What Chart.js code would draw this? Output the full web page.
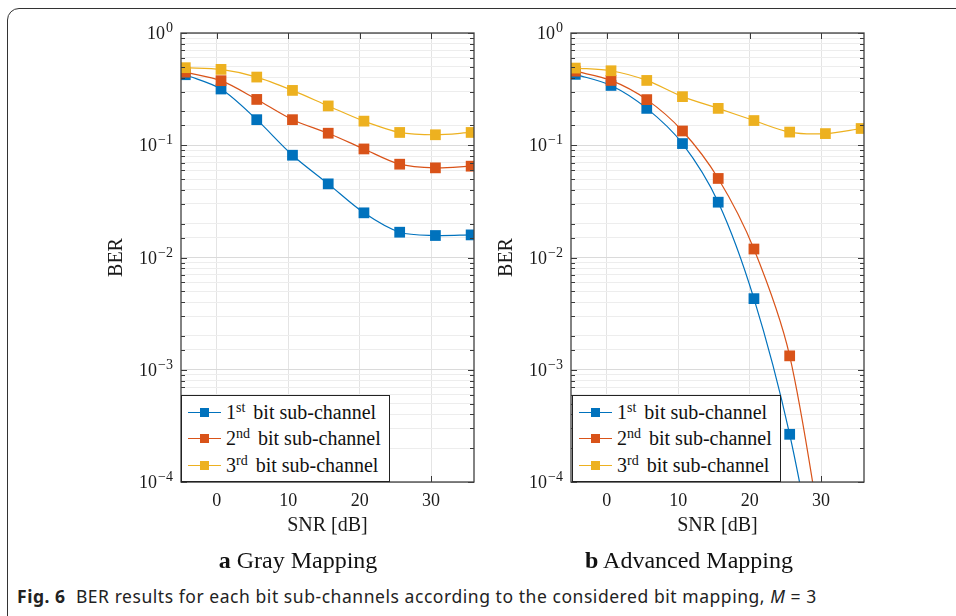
<!DOCTYPE html>
<html>
<head>
<meta charset="utf-8">
<script src="https://cdn.jsdelivr.net/npm/chart.js@4"></script>
<style>
    html, body { margin: 0; padding: 0; background: #fff; }
    body { width: 956px; height: 616px; position: relative; overflow: hidden; }
    .frame { position: absolute; left: 7px; top: 8px; width: 1000px; height: 620px;
        border: 1px solid #333; border-radius: 12px; box-sizing: border-box; }
    .plot { position: absolute; top: 20px; width: 390px; height: 530px; }
    .legend { position: absolute; top: 395px; height: 87px; background: #fff;
        border: 1px solid #222; box-sizing: border-box; font-family: "Liberation Serif", serif;
        font-size: 20px; color: #111; padding-top: 3px; }
    .legend .row { height: 26.5px; display: flex; align-items: center; white-space: nowrap; }
    .legend .sample { position: relative; width: 33px; height: 12px; margin: 0 5px 0 6px; flex: none; }
    .legend .sample .ln { position: absolute; left: 0; right: 0; top: 5.5px; height: 1.2px; }
    .legend .sample .mk { position: absolute; left: 12px; top: 1.5px; width: 9px; height: 9px; }
    .legend sup { font-size: 14px; vertical-align: 7px; line-height: 0; margin-right: 3px; }
    .sub { position: absolute; top: 547px; font-family: "Liberation Serif", serif; font-size: 24px;
        color: #111; transform: translateX(-50%); white-space: nowrap; }
    .caption { position: absolute; left: 17px; top: 584px; font-family: "Noto Sans", sans-serif;
        font-size: 17.5px; letter-spacing: 0.55px; color: #222; white-space: nowrap; }
</style>
</head>
<body>
<div class="frame"></div>

<div class="plot" style="left:100px"><canvas id="grayChart"></canvas></div>
<div class="plot" style="left:490px"><canvas id="advChart"></canvas></div>

<div class="legend" style="left:181px;width:209px" id="grayLegend"></div>
<div class="legend" style="left:572px;width:209px" id="advLegend"></div>

<div class="sub" style="left:298px"><b>a</b> Gray Mapping</div>
<div class="sub" style="left:689px"><b>b</b> Advanced Mapping</div>

<div class="caption"><b>Fig. 6</b>&nbsp; BER results for each bit sub-channels according to the considered bit mapping, <i>M</i> = 3</div>

<script>
// SNR [dB] of the simulated points
var snr = [-4.4, 0.6, 5.6, 10.6, 15.6, 20.6, 25.6, 30.6, 35.6];

// a) Gray mapping
var grayBit1 = [0.425, 0.317, 0.169, 0.0815, 0.0453, 0.0250, 0.0168, 0.0157, 0.0159];
var grayBit2 = [0.448, 0.376, 0.256, 0.169, 0.128, 0.0927, 0.0678, 0.0629, 0.0651];
var grayBit3 = [0.491, 0.474, 0.405, 0.308, 0.224, 0.164, 0.130, 0.124, 0.130];

// b) Advanced mapping (last points fall below the axis)
var advBit1 = [0.428, 0.341, 0.213, 0.1035, 0.0311, 0.0043, 0.000266, 0.000006, null];
var advBit2 = [0.457, 0.378, 0.255, 0.134, 0.0506, 0.0119, 0.00133, 0.00002, null];
var advBit3 = [0.487, 0.461, 0.378, 0.271, 0.213, 0.166, 0.131, 0.127, 0.141];

var seriesNames = ['st', 'nd', 'rd'];
var seriesColors = ['#0072BD', '#D95319', '#EDB120'];

var xTicks = [0, 10, 20, 30];
var yMin = 1e-4, yMax = 1;

(function() {
    var serif = '"Liberation Serif", serif';

    function isDecade(v) {
        var e = Math.log10(v);
        return Math.abs(e - Math.round(e)) < 1e-6;
    }

    // box around the plot, inward ticks and 10^n labels like pgfplots
    var frameTicks = {
        id: 'frameTicks',
        afterDatasetsDraw: function(chart) {
            var ctx = chart.ctx, a = chart.chartArea;
            var x = chart.scales.x, y = chart.scales.y;
            ctx.save();
            ctx.strokeStyle = '#3a3a3a';
            ctx.lineWidth = 1;
            ctx.beginPath();
            y.ticks.forEach(function(t) {
                var py = Math.round(y.getPixelForValue(t.value)) + 0.5;
                var len = isDecade(t.value) ? 6 : 4;
                ctx.moveTo(a.left, py); ctx.lineTo(a.left + len, py);
                ctx.moveTo(a.right, py); ctx.lineTo(a.right - len, py);
            });
            x.ticks.forEach(function(t) {
                if (xTicks.indexOf(t.value) < 0) return;
                var px = Math.round(x.getPixelForValue(t.value)) + 0.5;
                ctx.moveTo(px, a.bottom); ctx.lineTo(px, a.bottom - 6);
                ctx.moveTo(px, a.top); ctx.lineTo(px, a.top + 6);
            });
            ctx.stroke();
            ctx.lineWidth = 1.3;
            ctx.strokeStyle = '#404040';
            ctx.strokeRect(a.left, a.top, a.right - a.left, a.bottom - a.top);
            ctx.restore();
        },
        afterDraw: function(chart) {
            var ctx = chart.ctx, a = chart.chartArea, y = chart.scales.y;
            ctx.save();
            ctx.fillStyle = '#1a1a1a';
            ctx.textBaseline = 'alphabetic';
            ctx.textAlign = 'right';
            y.ticks.forEach(function(t) {
                if (!isDecade(t.value)) return;
                var py = y.getPixelForValue(t.value);
                var ex = String(Math.round(Math.log10(t.value))).replace('-', '\u2212');
                var right = a.left - 8;
                ctx.font = '14px ' + serif;
                var w = ctx.measureText(ex).width;
                ctx.fillText(ex, right, py - 1);
                ctx.font = '18px ' + serif;
                ctx.fillText('10', right - w - 1, py + 6);
            });
            ctx.restore();
        }
    };

    function makeDataset(values, i) {
        return {
            label: (i + 1) + seriesNames[i] + ' bit sub-channel',
            data: snr.map(function(s, k) { return { x: s, y: values[k] }; }),
            borderColor: seriesColors[i],
            backgroundColor: seriesColors[i],
            borderWidth: 1.2,
            pointStyle: 'rect',
            pointRadius: 7.6,
            pointHoverRadius: 7.6,
            pointBorderWidth: 0,
            tension: 0.3,
            order: 3 - i
        };
    }

    function makeChart(id, sets) {
        new Chart(document.getElementById(id), {
            type: 'line',
            data: { datasets: sets.map(makeDataset) },
            options: {
                responsive: true,
                maintainAspectRatio: false,
                animation: false,
                layout: { padding: { top: 13, right: 16, left: 0, bottom: 0 } },
                plugins: { legend: { display: false }, tooltip: { enabled: false } },
                scales: {
                    x: {
                        type: 'linear',
                        min: -5, max: 36,
                        afterFit: function(s) { s.height = 68; s.paddingLeft = 0; s.paddingRight = 0; },
                        border: { display: false },
                        grid: {
                            drawTicks: false,
                            color: function(c) { return xTicks.indexOf(c.tick.value) >= 0 ? '#e4e4e4' : 'rgba(0,0,0,0)'; }
                        },
                        ticks: {
                            stepSize: 10, autoSkip: false, maxRotation: 0, padding: 8,
                            color: '#1a1a1a', font: { family: serif, size: 18 },
                            callback: function(v) { return xTicks.indexOf(v) >= 0 ? String(v) : ''; }
                        },
                        title: { display: true, text: 'SNR [dB]', color: '#1a1a1a',
                            font: { family: serif, size: 20 }, padding: { top: 0, bottom: 12 } }
                    },
                    y: {
                        type: 'logarithmic',
                        min: yMin, max: yMax,
                        afterFit: function(s) { s.width = 81; s.paddingTop = 0; s.paddingBottom = 0; },
                        border: { display: false },
                        grid: {
                            drawTicks: false,
                            color: function(c) { return isDecade(c.tick.value) ? '#dadada' : '#ededed'; }
                        },
                        ticks: {
                            autoSkip: false,
                            callback: function() { return ''; }
                        },
                        title: { display: true, text: 'BER', color: '#1a1a1a',
                            font: { family: serif, size: 20 }, padding: { top: 5, bottom: 0 } }
                    }
                }
            },
            plugins: [frameTicks]
        });
    }

    function renderLegend(id) {
        var el = document.getElementById(id);
        el.innerHTML = seriesColors.map(function(c, i) {
            return '<div class="row"><span class="sample"><span class="ln" style="background:' + c +
                '"></span><span class="mk" style="background:' + c + '"></span></span>' +
                '<span>' + (i + 1) + '<sup>' + seriesNames[i] + '</sup> bit sub-channel</span></div>';
        }).join('');
    }

    makeChart('grayChart', [grayBit1, grayBit2, grayBit3]);
    makeChart('advChart', [advBit1, advBit2, advBit3]);
    renderLegend('grayLegend');
    renderLegend('advLegend');
})();
</script>
</body>
</html>
